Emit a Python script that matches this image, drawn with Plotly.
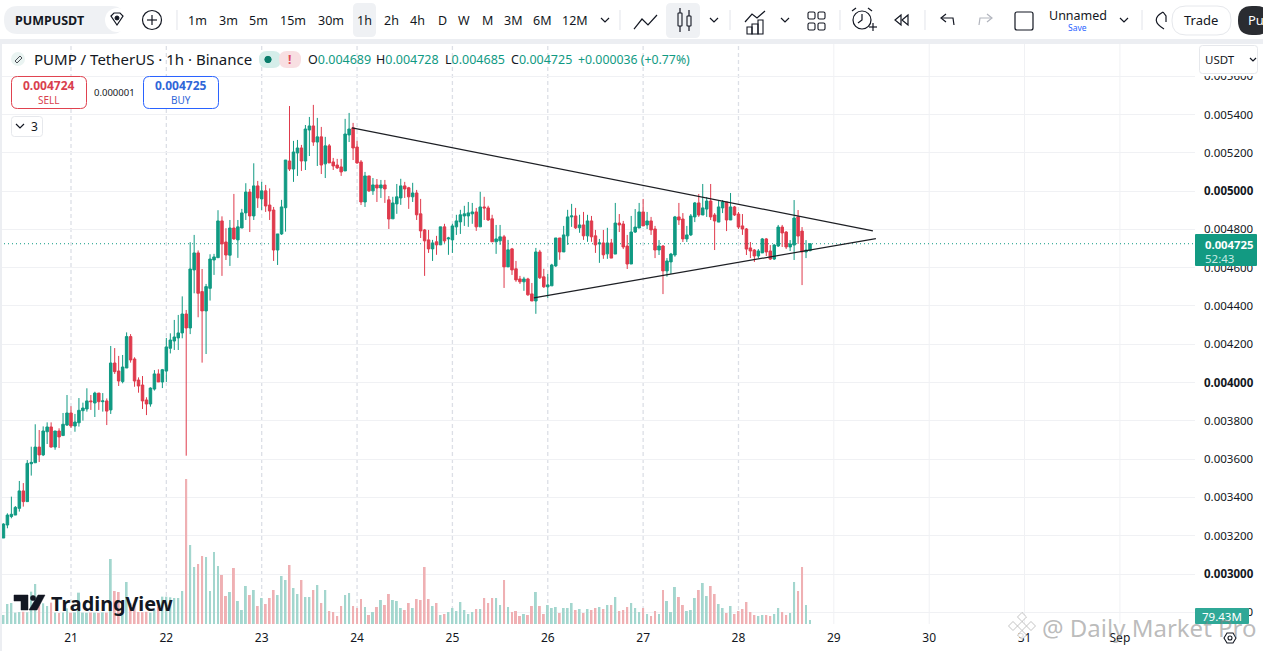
import pandas as pd
import plotly.graph_objects as go

W, H = 1263, 651
FONT = "Noto Sans"
INK = "#131722"
UP = "#109a83"
DOWN = "#df3a4c"
UP_VOL = "#a3d6ce"
DOWN_VOL = "#efb0b3"

# hourly candles, prices in millionths of USDT
opens = [
    3188, 3256, 3300, 3308, 3343, 3434, 3378, 3576, 3581, 3663,
    3622, 3743, 3768, 3663, 3747, 3723, 3778, 3841, 3773, 3790,
    3853, 3862, 3904, 3893, 3945, 3900, 3904, 3857, 4102, 4060,
    4005, 4076, 4240, 4123, 4013, 3987, 3909, 3888, 3966, 4045,
    4003, 4060, 4179, 4217, 4233, 4259, 4358, 4285, 4588, 4677,
    4475, 4374, 4492, 4640, 4652, 4844, 4734, 4665, 4807, 4745,
    4807, 4886, 4995, 4870, 5027, 4959, 5001, 4927, 4901, 4692,
    4776, 4913, 5157, 5115, 5199, 5225, 5157, 5319, 5340, 5256,
    5283, 5142, 5236, 5152, 5136, 5126, 5105, 5293, 5330, 5230,
    5152, 4943, 5079, 5001, 5032, 5016, 5032, 4954, 4855, 4933,
    4964, 5027, 5017, 4970, 4990, 4881, 4797, 4745, 4698, 4735,
    4719, 4813, 4750, 4745, 4813, 4839, 4870, 4870, 4881, 4891,
    4813, 4917, 4912, 4855, 4735, 4740, 4761, 4604, 4698, 4594,
    4541, 4526, 4541, 4463, 4426, 4682, 4552, 4500, 4505, 4609,
    4755, 4682, 4766, 4865, 4870, 4808, 4823, 4766, 4844, 4766,
    4724, 4729, 4672, 4729, 4671, 4833, 4828, 4713, 4619, 4786,
    4807, 4891, 4823, 4844, 4802, 4692, 4713, 4583, 4630, 4666,
    4865, 4854, 4750, 4771, 4865, 4938, 4875, 4906, 4948, 4875,
    4838, 4912, 4943, 4849, 4917, 4880, 4818, 4802, 4703, 4692,
    4661, 4677, 4750, 4687, 4645, 4713, 4812, 4786, 4708, 4718,
    4865, 4791, 4682, 4689,
]
highs = [
    3265, 3317, 3404, 3355, 3486, 3475, 3595, 3665, 3782, 3752,
    3771, 3792, 3792, 3747, 3761, 3841, 3935, 3876, 3836, 3919,
    3895, 3970, 3935, 3952, 3945, 3945, 3917, 4191, 4180, 4139,
    4144, 4262, 4253, 4132, 4027, 4034, 3923, 3975, 4065, 4069,
    4071, 4233, 4257, 4327, 4353, 4450, 4379, 4733, 4771, 4690,
    4593, 4515, 4670, 4672, 4900, 4868, 4806, 4849, 4985, 4849,
    4907, 5041, 5011, 5145, 5053, 5048, 5032, 5014, 4917, 4776,
    4954, 5162, 5444, 5262, 5267, 5241, 5345, 5387, 5450, 5382,
    5335, 5283, 5246, 5173, 5168, 5168, 5377, 5408, 5356, 5262,
    5162, 5100, 5079, 5068, 5063, 5058, 5058, 4974, 4970, 5037,
    5064, 5048, 5022, 5043, 5006, 4959, 4802, 4797, 4745, 4766,
    4813, 4829, 4761, 4829, 4876, 4902, 4923, 4943, 4938, 4912,
    4996, 4970, 4923, 4876, 4823, 4823, 4771, 4745, 4703, 4635,
    4557, 4552, 4547, 4520, 4703, 4693, 4594, 4567, 4620, 4755,
    4755, 4818, 4902, 4933, 4912, 4876, 4891, 4876, 4870, 4797,
    4750, 4797, 4808, 4750, 4938, 4880, 4844, 4771, 4870, 4906,
    4938, 4959, 4891, 4865, 4818, 4744, 4718, 4650, 4677, 4870,
    4938, 4885, 4818, 4880, 4943, 4985, 5037, 4969, 5037, 4885,
    4948, 4953, 4943, 4990, 4922, 4891, 4880, 4807, 4734, 4697,
    4697, 4755, 4755, 4718, 4724, 4823, 4823, 4791, 4744, 4953,
    4901, 4812, 4744, 4728,
]
lows = [
    3188, 3239, 3291, 3308, 3326, 3352, 3378, 3514, 3581, 3585,
    3616, 3679, 3660, 3649, 3658, 3723, 3773, 3763, 3743, 3770,
    3801, 3848, 3857, 3820, 3857, 3848, 3778, 3836, 4045, 3982,
    3996, 4076, 4104, 3978, 3947, 3862, 3830, 3874, 3958, 4003,
    3971, 4003, 4152, 4170, 4170, 4231, 3618, 4253, 4466, 4341,
    4104, 4149, 4428, 4562, 4652, 4557, 4640, 4609, 4745, 4651,
    4807, 4849, 4786, 4849, 4912, 4901, 4891, 4849, 4635, 4614,
    4771, 4788, 5105, 5048, 5079, 5105, 5110, 5183, 5236, 5131,
    5089, 5068, 5147, 5110, 5115, 5079, 5105, 5256, 5162, 5142,
    4927, 4917, 4995, 4980, 4943, 4964, 4938, 4802, 4855, 4881,
    4928, 4964, 4907, 4943, 4849, 4755, 4557, 4677, 4635, 4667,
    4719, 4729, 4667, 4677, 4771, 4776, 4818, 4813, 4829, 4792,
    4813, 4849, 4844, 4735, 4672, 4719, 4494, 4604, 4562, 4526,
    4515, 4479, 4453, 4426, 4359, 4541, 4494, 4442, 4505, 4604,
    4641, 4682, 4719, 4813, 4802, 4782, 4745, 4735, 4735, 4677,
    4625, 4646, 4646, 4650, 4671, 4786, 4697, 4593, 4619, 4781,
    4807, 4818, 4802, 4771, 4650, 4666, 4462, 4553, 4567, 4657,
    4823, 4734, 4734, 4765, 4838, 4865, 4875, 4865, 4849, 4692,
    4838, 4885, 4791, 4849, 4870, 4802, 4771, 4666, 4650, 4630,
    4650, 4677, 4661, 4640, 4640, 4708, 4708, 4697, 4687, 4640,
    4724, 4509, 4650, 4685,
]
closes = [
    3261, 3308, 3312, 3348, 3434, 3378, 3578, 3583, 3663, 3622,
    3747, 3768, 3663, 3747, 3716, 3782, 3841, 3773, 3794, 3855,
    3867, 3904, 3900, 3945, 3900, 3904, 3851, 4102, 4057, 4008,
    4081, 4240, 4118, 4008, 3982, 3904, 3888, 3971, 4045, 4003,
    4067, 4186, 4222, 4238, 4259, 4358, 4285, 4593, 4677, 4466,
    4374, 4501, 4645, 4656, 4844, 4724, 4666, 4807, 4750, 4813,
    4886, 4995, 4870, 5027, 4964, 5001, 4922, 4896, 4692, 4776,
    4917, 5162, 5115, 5204, 5225, 5157, 5324, 5340, 5256, 5283,
    5136, 5236, 5147, 5131, 5121, 5100, 5298, 5324, 5225, 5147,
    4943, 5079, 5001, 5032, 5016, 5032, 5011, 4854, 4938, 4970,
    5027, 5011, 4970, 4990, 4876, 4792, 4740, 4698, 4729, 4719,
    4813, 4740, 4755, 4818, 4844, 4876, 4881, 4886, 4891, 4813,
    4917, 4912, 4849, 4735, 4750, 4761, 4604, 4693, 4588, 4536,
    4526, 4541, 4458, 4426, 4682, 4547, 4500, 4510, 4614, 4755,
    4682, 4771, 4865, 4870, 4808, 4823, 4766, 4844, 4761, 4719,
    4729, 4667, 4729, 4650, 4833, 4823, 4708, 4619, 4786, 4812,
    4891, 4818, 4844, 4797, 4692, 4713, 4583, 4635, 4671, 4865,
    4849, 4750, 4771, 4870, 4938, 4875, 4912, 4948, 4865, 4844,
    4917, 4943, 4849, 4917, 4875, 4812, 4802, 4697, 4687, 4661,
    4687, 4750, 4682, 4645, 4718, 4812, 4781, 4708, 4724, 4859,
    4765, 4682, 4692, 4725,
]
# volume in millions
volumes = [
    180, 400, 420, 227, 240, 245, 235, 647, 800, 380,
    414, 360, 427, 227, 220, 230, 313, 225, 232, 627,
    228, 224, 230, 226, 222, 233, 227, 1300, 660, 640,
    414, 840, 414, 400, 240, 236, 244, 227, 280, 347,
    547, 547, 534, 520, 520, 660, 2900, 1580, 1140, 1200,
    1360, 1340, 660, 1440, 1160, 980, 560, 640, 1120, 460,
    280, 760, 580, 680, 360, 520, 400, 520, 680, 580,
    960, 880, 1180, 720, 600, 880, 540, 540, 680, 780,
    420, 680, 260, 240, 160, 360, 580, 620, 360, 320,
    500, 340, 180, 240, 340, 480, 380, 600, 480, 460,
    320, 280, 420, 320, 500, 480, 1140, 500, 360, 420,
    180, 200, 240, 320, 260, 440, 280, 200, 240, 300,
    300, 520, 420, 520, 520, 380, 880, 340, 240, 260,
    160, 200, 180, 360, 640, 360, 200, 380, 320, 340,
    220, 320, 320, 420, 280, 300, 220, 300, 280, 320,
    340, 300, 380, 380, 540, 260, 280, 340, 420, 320,
    240, 320, 200, 160, 260, 200, 680, 460, 240, 740,
    540, 380, 260, 280, 520, 680, 820, 560, 760, 600,
    400, 320, 220, 360, 200, 260, 300, 440, 240, 180,
    160, 180, 180, 160, 200, 320, 240, 180, 220, 840,
    660, 1140, 380, 79.43,
]

first_candle = "2025-08-20 07:00"
day_ticks = ["2025-08-21", "2025-08-22", "2025-08-23", "2025-08-24", "2025-08-25", "2025-08-26",
             "2025-08-27", "2025-08-28", "2025-08-29", "2025-08-30", "2025-08-31", "2025-09-01"]
day_labels = ["21", "22", "23", "24", "25", "26", "27", "28", "29", "30", "31", "Sep"]
session_days = day_ticks[:8]
future_days = day_ticks[8:]

price_ticks = [0.0028, 0.0030, 0.0032, 0.0034, 0.0036, 0.0038, 0.0040, 0.0042, 0.0044, 0.0046,
               0.0048, 0.0050, 0.0052, 0.0054, 0.0056]
price_labels = ["0.002800", "<b>0.003000</b>", "0.003200", "0.003400", "0.003600", "0.003800",
                "<b>0.004000</b>", "0.004200", "0.004400", "0.004600", "0.004800", "<b>0.005000</b>",
                "0.005200", "0.005400", "0.005600"]

# hand drawn trend lines of the triangle
upper_line_x = ["2025-08-23 22:45", "2025-08-29 09:50"]
upper_line_y = [0.005330, 0.004792]
lower_line_x = ["2025-08-25 20:30", "2025-08-29 10:35"]
lower_line_y = [0.004442, 0.004752]

intervals = ["1m", "3m", "5m", "15m", "30m", "1h", "2h", "4h", "D", "W", "M", "3M", "6M", "12M"]
interval_x = [197, 228, 258, 293, 331, 364, 391, 418, 442, 464, 487, 513, 542, 575]

times = pd.date_range(first_candle, periods=len(opens), freq="h")
vol_colors = [UP_VOL if c >= o else DOWN_VOL for o, c in zip(opens, closes)]


def X(p):
    return p / W


def Y(p):
    return 1 - p / H


def poly(points, closed=False):
    d = "M" + " L".join(f"{X(a):.5f} {Y(b):.5f}" for a, b in points)
    return d + (" Z" if closed else "")


def rrect(x0, y0, x1, y1, r):
    return (
        f"M{X(x0 + r):.5f} {Y(y0):.5f} L{X(x1 - r):.5f} {Y(y0):.5f} Q{X(x1):.5f} {Y(y0):.5f} {X(x1):.5f} {Y(y0 + r):.5f} "
        f"L{X(x1):.5f} {Y(y1 - r):.5f} Q{X(x1):.5f} {Y(y1):.5f} {X(x1 - r):.5f} {Y(y1):.5f} "
        f"L{X(x0 + r):.5f} {Y(y1):.5f} Q{X(x0):.5f} {Y(y1):.5f} {X(x0):.5f} {Y(y1 - r):.5f} "
        f"L{X(x0):.5f} {Y(y0 + r):.5f} Q{X(x0):.5f} {Y(y0):.5f} {X(x0 + r):.5f} {Y(y0):.5f} Z"
    )


shapes = []
annotations = []


def path(d, line=INK, width=1.2, fill=None, layer="above"):
    shapes.append(dict(type="path", path=d, xref="paper", yref="paper", layer=layer,
                       line=dict(color=line, width=width), fillcolor=fill))


def box(x0, y0, x1, y1, r, line="rgba(0,0,0,0)", width=1, fill=None, layer="above"):
    path(rrect(x0, y0, x1, y1, r), line, width, fill, layer)


def circle(cx, cy, r, line=INK, width=1.2, fill=None):
    shapes.append(dict(type="circle", xref="paper", yref="paper", x0=X(cx - r), x1=X(cx + r),
                       y0=Y(cy + r), y1=Y(cy - r), line=dict(color=line, width=width), fillcolor=fill))


def text(x, y, s, size=12, color=INK, anchor="center"):
    annotations.append(dict(x=X(x), y=Y(y), xref="paper", yref="paper", text=s, showarrow=False,
                            xanchor=anchor, yanchor="middle", borderpad=0,
                            font=dict(family=FONT, size=size, color=color)))


def chevron(cx, cy):
    path(poly([(cx - 4, cy - 2), (cx, cy + 2), (cx + 4, cy - 2)]))


fig = go.Figure()
fig.add_trace(go.Bar(x=times, y=volumes, yaxis="y2", marker=dict(color=vol_colors, line_width=0),
                     width=1800000, hoverinfo="skip"))
fig.add_trace(go.Candlestick(
    x=times,
    open=[v / 1e6 for v in opens],
    high=[v / 1e6 for v in highs],
    low=[v / 1e6 for v in lows],
    close=[v / 1e6 for v in closes],
    whiskerwidth=0,
    increasing=dict(line=dict(color=UP, width=1), fillcolor=UP),
    decreasing=dict(line=dict(color=DOWN, width=1), fillcolor=DOWN),
))
fig.add_trace(go.Scatter(x=upper_line_x, y=upper_line_y, mode="lines", line=dict(color="#1d1f24", width=1.2)))
fig.add_trace(go.Scatter(x=lower_line_x, y=lower_line_y, mode="lines", line=dict(color="#1d1f24", width=1.2)))

# vertical grid: dashed session breaks where there are candles, plain lines after
for day in session_days:
    shapes.append(dict(type="line", x0=day, x1=day, y0=0, y1=1, xref="x", yref="y domain", layer="below",
                       line=dict(color="#dcdfe6", width=1.3, dash="4px,3px")))
for day in future_days:
    shapes.append(dict(type="line", x0=day, x1=day, y0=0, y1=1, xref="x", yref="y domain", layer="below",
                       line=dict(color="#f0f1f4", width=1)))
shapes.append(dict(type="line", x0=0, x1=1, y0=closes[-1] / 1e6, y1=closes[-1] / 1e6, xref="x domain", yref="y",
                   layer="below", line=dict(color=UP, width=1, dash="1px,3px")))

# frame around the chart
box(0, 39, 1263, 44, 0, fill="#eceef2")
box(0, 39, 2, 651, 0, fill="#eceef2")

# top toolbar
box(4, 6, 125, 34, 14, fill="#eff1f4")
text(14, 20, "<b>PUMPUSDT</b>", 12.5, INK, "left")
circle(117, 20, 12, "rgba(0,0,0,0)", 1, "#ffffff")
path(poly([(111, 16), (114, 13), (120, 13), (123, 16), (117, 25)], True))
circle(117, 18, 2, INK, 1, INK)
circle(152, 20, 9.5)
path(poly([(147, 20), (157, 20)]))
path(poly([(152, 15), (152, 25)]))
box(353, 3, 376, 37, 5, fill="#eff1f4")
for lab, lab_x in zip(intervals, interval_x):
    text(lab_x, 20, lab, 12.5)
chevron(605, 20)
for sep_x in [177, 620, 730, 840, 925, 1142]:
    path(poly([(sep_x, 10), (sep_x, 30)]), "#e2e4ea", 1)
path(poly([(634, 29), (642, 19), (648, 25), (657, 15)]))
box(666, 3, 700, 38, 5, fill="#eff1f4")
box(678, 13, 682, 26, 0.5, INK, 1.1)
path(poly([(680, 8), (680, 13)]))
path(poly([(680, 26), (680, 32)]))
box(687, 16, 691, 26, 0.5, INK, 1.1)
path(poly([(689, 10), (689, 16)]))
path(poly([(689, 26), (689, 31)]))
chevron(714, 20)
path(poly([(745, 22), (752, 14), (757, 18), (765, 11)]))
box(747, 27, 752, 34, 0, INK, 1.1)
box(752, 24, 758, 34, 0, INK, 1.1)
box(758, 20, 763, 34, 0, INK, 1.1)
chevron(785, 20)
for gx, gy in [(808, 12), (818, 12), (808, 23), (818, 23)]:
    box(gx, gy, gx + 7, gy + 7, 1.5, INK, 1.1)
circle(862, 20, 9)
path(poly([(862, 14), (862, 20), (858, 23)]))
path(poly([(852, 11), (856, 8)]))
path(poly([(868, 8), (872, 11)]))
path(poly([(869, 27), (877, 27)]))
path(poly([(873, 23), (873, 31)]))
path(poly([(901, 15), (895, 20), (901, 25)], True))
path(poly([(908, 15), (902, 20), (908, 25)], True))
path(poly([(954, 25), (953, 18), (942, 18)]))
path(poly([(946, 14), (941, 18), (946, 22)]))
path(poly([(979, 25), (980, 18), (991, 18)]), "#b2b5be")
path(poly([(987, 14), (992, 18), (987, 22)]), "#b2b5be")
box(1015, 12, 1033, 30, 2, INK, 1.2)
text(1078, 15, "Unnamed", 12.5)
text(1077, 28, "Save", 8.5, "#2962ff")
chevron(1124, 20)
path("M%.5f %.5f Q%.5f %.5f %.5f %.5f" % (X(1163), Y(12), X(1149), Y(20), X(1164), Y(29)))
path(poly([(1163, 12), (1166, 16), (1166, 22)]))
box(1172, 6, 1231, 35, 14, "#e6e8ec", 1, "#ffffff")
text(1201, 20, "Trade", 13)
box(1238, 6, 1270, 35, 14, fill="#2a2c31")
text(1247, 20, "Pu", 13, "#ffffff", "left")

# legend row
circle(18, 59, 7, "rgba(0,0,0,0)", 1, "#eaf4f2")
path(poly([(15, 61), (20, 56), (22, 58), (17, 63)], True), "#4a4d55", 1)
text(33, 59, "PUMP / TetherUS · 1h · Binance", 15, INK, "left")
box(259, 51, 281, 68, 8, fill="#d5eeea")
box(279, 51, 301, 68, 8, fill="#f8dfe2")
circle(268, 59.5, 3.2, "#0a7d6b", 1, "#0a7d6b")
text(289, 59, "<b>!</b>", 12, "#e04a5a")
val = "<span style='color:#109a83'>%s</span>"
text(307, 59, "O" + val % "0.004689", 12.5, INK, "left")
text(375, 59, "H" + val % "0.004728", 12.5, INK, "left")
text(444, 59, "L" + val % "0.004685", 12.5, INK, "left")
text(510, 59, "C" + val % "0.004725", 12.5, INK, "left")
text(577, 59, val % "+0.000036 (+0.77%)", 12.3, INK, "left")

# sell / buy buttons
box(11.5, 76.5, 86.5, 108.5, 6, "#e0424f", 1, "#ffffff")
text(49, 85.5, "<b>0.004724</b>", 12, "#d9404e")
text(49, 99.5, "SELL", 10, "#d9404e")
text(115, 92, "0.000001", 9.5, INK)
box(143.5, 76.5, 218.5, 108.5, 6, "#2962ff", 1, "#ffffff")
text(181, 85.5, "<b>0.004725</b>", 12, "#2f66d8")
text(181, 99.5, "BUY", 10, "#2f66d8")
box(11.5, 116.5, 42.5, 136.5, 3, "#e6e8ec", 1, "#ffffff")
chevron(20, 126)
text(34, 126, "3", 12)

# price scale widgets
box(1197, 44, 1263, 76, 0, fill="#ffffff")
box(1199.5, 45.5, 1257.5, 73.5, 3, "#e6e8ec", 1, "#ffffff")
text(1204, 59, "USDT", 11.5, INK, "left")
path(poly([(1250, 58), (1253, 61), (1256, 58)]))
box(1195, 234, 1257, 266, 1, fill="#129a82")
text(1204, 244, "<b>0.004725</b>", 11.3, "#ffffff", "left")
text(1204, 258, "52:43", 11.5, "#c9ebe5", "left")
box(1195, 608, 1249, 624, 1, fill="#2fa897")
text(1222, 616, "79.43M", 11.5, "#ffffff")

# TradingView mark
path(poly([(14, 595), (28, 595), (28, 610), (21, 610), (21, 601), (14, 601)], True), "#131722", 0.5, "#131722")
circle(33, 598, 2.6, "#131722", 0.5, "#131722")
path(poly([(38, 595), (45, 595), (37, 610), (29, 610)], True), "#131722", 0.5, "#131722")
text(50, 603, "<b>TradingView</b>", 19.8, "#131722", "left")

# gear under the price scale
path(poly([(1224, 638), (1227, 633), (1233, 633), (1236, 638), (1233, 643), (1227, 643)], True), INK, 1.1)
circle(1230, 638, 2, INK, 1.1)

# site watermark on top of everything
for dx, dy in [(1022, 617), (1013, 626), (1031, 626), (1022, 635), (1022, 626)]:
    path(poly([(dx - 4.5, dy), (dx, dy - 4.5), (dx + 4.5, dy), (dx, dy + 4.5)], True),
         "rgba(170,170,170,0.7)", 1, "rgba(255,255,255,0.85)")
text(1041, 627, "@ Daily Market Pro", 24, "rgba(130,130,130,0.55)", "left")

fig.update_layout(
    width=W,
    height=H,
    margin=dict(l=0, r=0, t=0, b=0),
    paper_bgcolor="#ffffff",
    plot_bgcolor="#ffffff",
    showlegend=False,
    hovermode=False,
    boxgap=0.1,
    font=dict(family=FONT, color=INK),
    shapes=shapes,
    annotations=annotations,
    xaxis=dict(
        domain=[0, 1195 / W],
        range=["2025-08-20 06:08", "2025-09-01 18:54"],
        rangeslider=dict(visible=False),
        tickmode="array",
        tickvals=day_ticks,
        ticktext=day_labels,
        tickfont=dict(size=12, color=INK),
        showgrid=False,
        zeroline=False,
        showline=False,
        ticks="",
        ticklabelstandoff=5,
    ),
    yaxis=dict(
        domain=[1 - 624 / H, 1 - 44 / H],
        range=[0.002739, 0.005768],
        side="right",
        tickmode="array",
        tickvals=price_ticks,
        ticktext=price_labels,
        tickfont=dict(size=11.5, color=INK),
        gridcolor="#f0f1f4",
        gridwidth=1,
        zeroline=False,
        showline=False,
        ticks="",
        ticklabelstandoff=8,
    ),
    yaxis2=dict(
        domain=[1 - 624 / H, 1 - 44 / H],
        range=[0, 11600],
        overlaying="y",
        visible=False,
    ),
)

fig.write_html("out.html", config=dict(displayModeBar=False),
               post_script="document.body.style.margin='0';document.body.style.overflow='hidden';")
